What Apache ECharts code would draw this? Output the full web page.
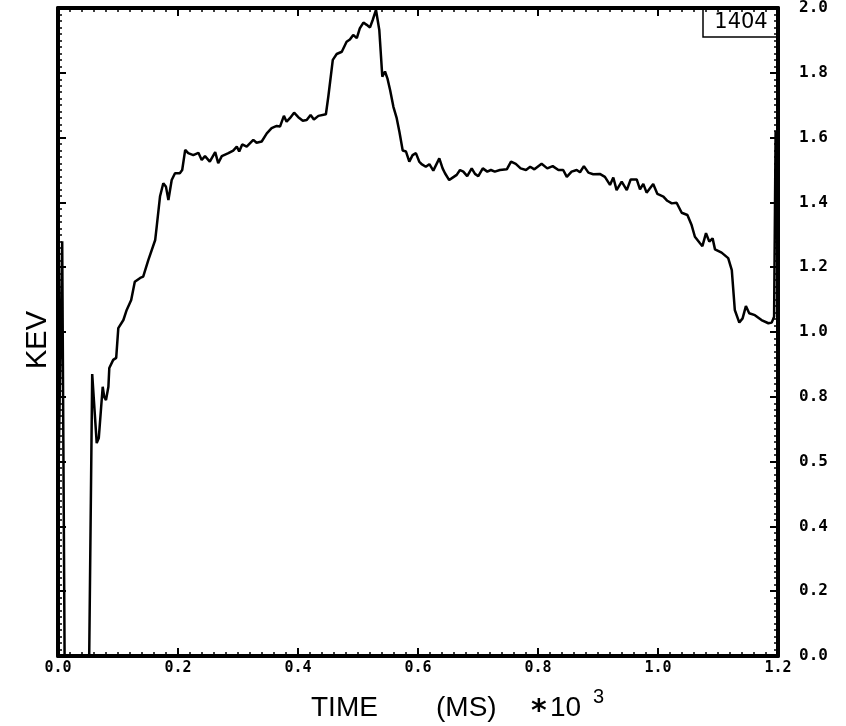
<!DOCTYPE html>
<html>
<head>
<meta charset="utf-8">
<script src="https://cdn.jsdelivr.net/npm/echarts@6/dist/echarts.min.js"></script>
<style>
  html, body { margin: 0; padding: 0; background: #fff; }
  #chart { width: 846px; height: 726px; }
</style>
</head>
<body>
<div id="chart"></div>
<script>
// time (ms * 10^3) and energy (keV)
var timeMs = [
  0.0, 0.007, 0.011, 0.052, 0.057, 0.0645, 0.068, 0.0745, 0.077, 0.080,
  0.084, 0.0855, 0.092, 0.097, 0.1005, 0.109, 0.1145, 0.122, 0.128, 0.137,
  0.142, 0.1505, 0.162, 0.1645, 0.170, 0.1755, 0.180, 0.184, 0.1895, 0.195,
  0.203, 0.207, 0.212, 0.217, 0.2255, 0.234, 0.2395, 0.245, 0.253, 0.262,
  0.267, 0.273, 0.284, 0.292, 0.298, 0.302, 0.307, 0.3145, 0.3255, 0.331,
  0.3395, 0.348, 0.356, 0.3645, 0.370, 0.3765, 0.381, 0.3865, 0.3935, 0.4005,
  0.408, 0.4145, 0.421, 0.4265, 0.434, 0.4465, 0.4505, 0.458, 0.4645, 0.473,
  0.481, 0.4865, 0.492, 0.498, 0.503, 0.509, 0.5145, 0.520, 0.5245, 0.530,
  0.5355, 0.5405, 0.545, 0.549, 0.5535, 0.559, 0.5645, 0.569, 0.5745, 0.580,
  0.5855, 0.591, 0.5965, 0.602, 0.606, 0.613, 0.619, 0.6255, 0.6355, 0.641,
  0.645, 0.652, 0.659, 0.6645, 0.670, 0.6755, 0.682, 0.6895, 0.695, 0.7005,
  0.708, 0.7155, 0.7215, 0.728, 0.7365, 0.748, 0.755, 0.763, 0.771, 0.780,
  0.787, 0.794, 0.806, 0.8155, 0.8245, 0.834, 0.842, 0.848, 0.856, 0.8645,
  0.870, 0.8765, 0.884, 0.892, 0.903, 0.9115, 0.920, 0.9255, 0.931, 0.9395,
  0.948, 0.9545, 0.9645, 0.970, 0.9755, 0.981, 0.992, 0.999, 1.009, 1.0155,
  1.023, 1.031, 1.0395, 1.049, 1.056, 1.0615, 1.070, 1.074, 1.080, 1.0855,
  1.091, 1.095, 1.106, 1.117, 1.123, 1.128, 1.1355, 1.141, 1.1465, 1.152,
  1.1615, 1.1725, 1.184, 1.1895, 1.1935, 1.196
];
var kev = [
  0.47, 1.28, 0.0, 0.0, 0.87, 0.657, 0.673, 0.831, 0.800, 0.790,
  0.831, 0.889, 0.914, 0.920, 1.012, 1.037, 1.068, 1.099, 1.155, 1.167,
  1.171, 1.222, 1.284, 1.325, 1.418, 1.459, 1.448, 1.407, 1.469, 1.490,
  1.490, 1.500, 1.562, 1.552, 1.546, 1.553, 1.531, 1.543, 1.526, 1.555,
  1.521, 1.543, 1.552, 1.560, 1.572, 1.557, 1.579, 1.572, 1.593, 1.584,
  1.588, 1.613, 1.629, 1.636, 1.634, 1.667, 1.649, 1.660, 1.677, 1.663,
  1.652, 1.654, 1.670, 1.656, 1.667, 1.672, 1.726, 1.840, 1.858, 1.865,
  1.896, 1.903, 1.917, 1.907, 1.937, 1.955, 1.948, 1.940, 1.963, 1.994,
  1.932, 1.788, 1.804, 1.783, 1.747, 1.695, 1.660, 1.618, 1.560, 1.557,
  1.526, 1.546, 1.552, 1.526, 1.518, 1.510, 1.518, 1.498, 1.536, 1.505,
  1.490, 1.469, 1.478, 1.485, 1.500, 1.495, 1.481, 1.505, 1.488, 1.481,
  1.505, 1.495, 1.500, 1.495, 1.500, 1.502, 1.526, 1.519, 1.505, 1.500,
  1.510, 1.502, 1.519, 1.505, 1.512, 1.500, 1.500, 1.479, 1.495, 1.500,
  1.493, 1.512, 1.492, 1.487, 1.488, 1.479, 1.454, 1.477, 1.438, 1.464,
  1.438, 1.471, 1.471, 1.440, 1.457, 1.430, 1.457, 1.426, 1.418, 1.405,
  1.397, 1.399, 1.368, 1.361, 1.330, 1.294, 1.274, 1.265, 1.305, 1.279,
  1.289, 1.255, 1.245, 1.228, 1.191, 1.068, 1.029, 1.042, 1.080, 1.058,
  1.052, 1.037, 1.027, 1.029, 1.047, 1.62
];

var xLabels = ['0.0', '0.2', '0.4', '0.6', '0.8', '1.0', '1.2'];
// the plot prints "0.5" at the 0.6 tick
var yLabels = ['0.0', '0.2', '0.4', '0.5', '0.8', '1.0', '1.2', '1.4', '1.6', '1.8', '2.0'];
var shotNumber = '1404';

var chart = echarts.init(document.getElementById('chart'));

var labelFont = {
  color: '#000',
  fontFamily: 'DejaVu Sans Mono',
  fontWeight: 'bold',
  fontSize: 15,
};

function frameAxis(extra) {
  return Object.assign({
    type: 'value',
    axisLine: { show: true, onZero: false, lineStyle: { color: '#000', width: 4 } },
    axisTick: { show: true, inside: true, length: 8, lineStyle: { color: '#000', width: 2 } },
    minorTick: { show: true, splitNumber: 10, length: 4, lineStyle: { color: '#000', width: 1.5 } },
    splitLine: { show: false },
    minorSplitLine: { show: false },
  }, extra);
}

chart.setOption({
  animation: false,
  backgroundColor: '#fff',
  grid: { left: 58, right: 68, top: 8, bottom: 70, containLabel: false },
  xAxis: [
    frameAxis({
      position: 'bottom',
      min: 0, max: 1.2, interval: 0.2,
      axisLabel: Object.assign({
        margin: 5,
        formatter: function (v) { return xLabels[Math.round(v / 0.2)]; },
      }, labelFont),
    }),
    frameAxis({
      position: 'top',
      min: 0, max: 1.2, interval: 0.2,
      axisLabel: { show: false },
    }),
  ],
  yAxis: [
    frameAxis({
      position: 'left',
      min: 0, max: 2, interval: 0.2,
      axisLabel: { show: false },
    }),
    frameAxis({
      position: 'right',
      min: 0, max: 2, interval: 0.2,
      axisLabel: Object.assign({
        margin: 21,
        formatter: function (v) { return yLabels[Math.round(v / 0.2)]; },
      }, labelFont, { fontSize: 16 }),
    }),
  ],
  series: [
    {
      type: 'line',
      xAxisIndex: 0,
      yAxisIndex: 0,
      data: timeMs.map(function (t, i) { return [t, kev[i]]; }),
      showSymbol: false,
      symbol: 'none',
      lineStyle: { color: '#000', width: 2.5 },
      clip: false,
    },
  ],
  graphic: [
    {
      type: 'text',
      x: 38, y: 340,
      rotation: Math.PI / 2,
      style: {
        text: 'KEV',
        font: '29px "Liberation Sans"',
        fill: '#000',
        textAlign: 'center',
        textVerticalAlign: 'middle',
      },
    },
    {
      type: 'text', x: 311, y: 708,
      style: { text: 'TIME', font: '28px "Liberation Sans"', fill: '#000', textVerticalAlign: 'middle' },
    },
    {
      type: 'text', x: 436, y: 708,
      style: { text: '(MS)', font: '28px "Liberation Sans"', fill: '#000', textVerticalAlign: 'middle' },
    },
    {
      type: 'text', x: 531, y: 712,
      style: { text: '*', font: 'bold 30px "DejaVu Sans"', fill: '#000', textVerticalAlign: 'middle' },
    },
    {
      type: 'text', x: 550, y: 708,
      style: { text: '10', font: '28px "Liberation Sans"', fill: '#000', textVerticalAlign: 'middle' },
    },
    {
      type: 'text', x: 593, y: 697,
      style: { text: '3', font: '20px "Liberation Sans"', fill: '#000', textVerticalAlign: 'middle' },
    },
    {
      type: 'rect',
      shape: { x: 703, y: 8, width: 75, height: 29 },
      style: { fill: '#fff', stroke: '#000', lineWidth: 1.5 },
    },
    {
      type: 'text', x: 741, y: 23,
      style: {
        text: shotNumber,
        font: '21px "DejaVu Sans"',
        fill: '#000',
        textAlign: 'center',
        textVerticalAlign: 'middle',
      },
    },
  ],
});
</script>
</body>
</html>
